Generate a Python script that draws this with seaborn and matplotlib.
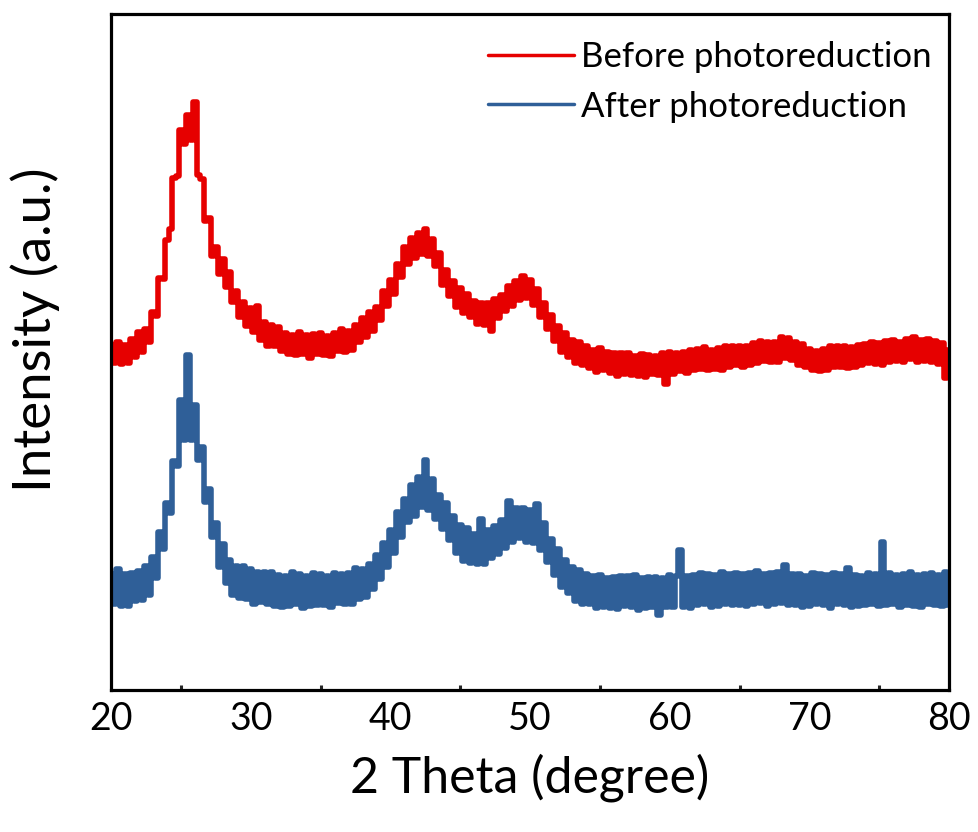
import matplotlib
matplotlib.use("Agg")
import matplotlib.pyplot as plt
import seaborn as sns
from matplotlib.ticker import MultipleLocator

###############################################################################
# DATA (arbitrary intensity units)
###############################################################################
two_theta = [
    20.0, 20.25, 20.5, 20.75, 21.0, 21.25, 21.5, 21.75,
    22.0, 22.25, 22.5, 22.75, 23.0, 23.25, 23.5, 23.75,
    24.0, 24.25, 24.5, 24.75, 25.0, 25.25, 25.5, 25.75,
    26.0, 26.25, 26.5, 26.75, 27.0, 27.25, 27.5, 27.75,
    28.0, 28.25, 28.5, 28.75, 29.0, 29.25, 29.5, 29.75,
    30.0, 30.25, 30.5, 30.75, 31.0, 31.25, 31.5, 31.75,
    32.0, 32.25, 32.5, 32.75, 33.0, 33.25, 33.5, 33.75,
    34.0, 34.25, 34.5, 34.75, 35.0, 35.25, 35.5, 35.75,
    36.0, 36.25, 36.5, 36.75, 37.0, 37.25, 37.5, 37.75,
    38.0, 38.25, 38.5, 38.75, 39.0, 39.25, 39.5, 39.75,
    40.0, 40.25, 40.5, 40.75, 41.0, 41.25, 41.5, 41.75,
    42.0, 42.25, 42.5, 42.75, 43.0, 43.25, 43.5, 43.75,
    44.0, 44.25, 44.5, 44.75, 45.0, 45.25, 45.5, 45.75,
    46.0, 46.25, 46.5, 46.75, 47.0, 47.25, 47.5, 47.75,
    48.0, 48.25, 48.5, 48.75, 49.0, 49.25, 49.5, 49.75,
    50.0, 50.25, 50.5, 50.75, 51.0, 51.25, 51.5, 51.75,
    52.0, 52.25, 52.5, 52.75, 53.0, 53.25, 53.5, 53.75,
    54.0, 54.25, 54.5, 54.75, 55.0, 55.25, 55.5, 55.75,
    56.0, 56.25, 56.5, 56.75, 57.0, 57.25, 57.5, 57.75,
    58.0, 58.25, 58.5, 58.75, 59.0, 59.25, 59.5, 59.75,
    60.0, 60.25, 60.5, 60.75, 61.0, 61.25, 61.5, 61.75,
    62.0, 62.25, 62.5, 62.75, 63.0, 63.25, 63.5, 63.75,
    64.0, 64.25, 64.5, 64.75, 65.0, 65.25, 65.5, 65.75,
    66.0, 66.25, 66.5, 66.75, 67.0, 67.25, 67.5, 67.75,
    68.0, 68.25, 68.5, 68.75, 69.0, 69.25, 69.5, 69.75,
    70.0, 70.25, 70.5, 70.75, 71.0, 71.25, 71.5, 71.75,
    72.0, 72.25, 72.5, 72.75, 73.0, 73.25, 73.5, 73.75,
    74.0, 74.25, 74.5, 74.75, 75.0, 75.25, 75.5, 75.75,
    76.0, 76.25, 76.5, 76.75, 77.0, 77.25, 77.5, 77.75,
    78.0, 78.25, 78.5, 78.75, 79.0, 79.25, 79.5, 79.75,
    80.0,
]

# before photoreduction (red trace)
before = [
    345, 327, 348, 326, 345, 327, 351, 333,
    358, 338, 361, 348, 378, 374, 412, 411,
    450, 461, 512, 514, 560, 546, 575, 550,
    588, 515, 511, 469, 472, 434, 443, 416,
    431, 403, 418, 388, 399, 373, 388, 364,
    382, 358, 384, 350, 368, 344, 365, 344,
    363, 339, 357, 336, 355, 335, 358, 336,
    355, 332, 356, 336, 357, 335, 354, 334,
    357, 339, 361, 338, 359, 340, 365, 348,
    372, 353, 378, 359, 383, 370, 399, 384,
    410, 396, 426, 413, 443, 426, 452, 432,
    457, 436, 461, 434, 451, 424, 437, 405,
    420, 394, 409, 383, 402, 377, 396, 373,
    389, 366, 387, 365, 387, 359, 391, 372,
    395, 379, 404, 384, 409, 390, 414, 392,
    410, 385, 401, 373, 387, 361, 375, 349,
    364, 338, 357, 333, 350, 327, 348, 325,
    344, 322, 340, 318, 342, 320, 338, 317,
    337, 314, 337, 316, 337, 315, 334, 314,
    336, 313, 335, 316, 334, 315, 337, 306,
    338, 316, 337, 319, 338, 317, 340, 320,
    341, 321, 343, 320, 340, 321, 342, 320,
    344, 323, 344, 325, 344, 323, 344, 325,
    347, 327, 349, 329, 348, 328, 348, 328,
    353, 332, 352, 330, 348, 325, 346, 323,
    341, 320, 339, 319, 341, 320, 344, 323,
    344, 323, 344, 322, 343, 323, 345, 325,
    346, 327, 348, 326, 347, 325, 349, 328,
    350, 329, 348, 328, 351, 331, 353, 328,
    350, 329, 351, 328, 349, 326, 347, 312,
    340,
]

# after photoreduction (blue trace)
after = [
    116, 86, 121, 84, 116, 84, 117, 89,
    119, 90, 124, 95, 133, 112, 158, 141,
    187, 177, 229, 224, 290, 250, 335, 250,
    285, 230, 243, 188, 201, 153, 167, 123,
    146, 107, 130, 95, 124, 92, 124, 91,
    121, 86, 118, 88, 118, 86, 118, 84,
    115, 83, 114, 84, 118, 86, 116, 82,
    114, 84, 117, 85, 116, 85, 114, 83,
    117, 87, 116, 86, 117, 86, 122, 91,
    121, 93, 126, 101, 135, 111, 147, 123,
    160, 137, 178, 153, 191, 168, 205, 174,
    213, 183, 230, 180, 211, 171, 195, 161,
    187, 150, 174, 137, 165, 129, 162, 127,
    156, 126, 171, 126, 160, 132, 164, 136,
    170, 142, 189, 148, 182, 152, 182, 148,
    180, 147, 186, 140, 167, 128, 151, 115,
    141, 103, 130, 97, 123, 89, 120, 86,
    116, 86, 114, 82, 115, 83, 112, 82,
    113, 81, 114, 84, 114, 83, 115, 80,
    112, 82, 113, 83, 113, 75, 112, 83,
    115, 83, 114, 140, 83, 114, 82, 115,
    85, 117, 86, 116, 83, 115, 84, 118,
    86, 116, 85, 117, 85, 116, 84, 117,
    86, 119, 87, 116, 84, 117, 86, 118,
    87, 125, 85, 116, 85, 116, 83, 114,
    84, 117, 86, 116, 85, 115, 82, 117,
    86, 116, 85, 122, 83, 115, 84, 114,
    85, 117, 86, 116, 84, 148, 85, 117,
    86, 115, 83, 116, 85, 118, 84, 115,
    83, 116, 86, 117, 85, 115, 84, 118,
    85,
]

series_labels = ["Before photoreduction", "After photoreduction"]
series_colors = ["#e60000", "#2f5f98"]
x_ticks = [20, 30, 40, 50, 60, 70, 80]

###############################################################################
# STYLE
###############################################################################
sns.set_theme(style="white")
plt.rcParams["font.family"] = ["Lato", "DejaVu Sans"]
plt.rcParams["text.color"] = "black"

###############################################################################
# PLOT
###############################################################################
fig, ax = plt.subplots(figsize=(9.79, 8.32), dpi=100)
fig.subplots_adjust(left=0.1134, right=0.9694, top=0.983, bottom=0.1707)

for ys, lab, col in zip([before, after], series_labels, series_colors):
    sns.lineplot(x=two_theta, y=ys, ax=ax, color=col, linewidth=4.0,
                 label=lab, estimator=None, sort=False, drawstyle="steps-mid")

ax.set_xlim(20, 80)
ax.set_ylim(0, 676)
ax.set_xticks(x_ticks)
ax.xaxis.set_minor_locator(MultipleLocator(5))
ax.set_yticks([])

for sp in ax.spines.values():
    sp.set_visible(True)
    sp.set_color("black")
    sp.set_linewidth(2.3)

ax.tick_params(axis="x", which="major", direction="in", length=7, width=2.2,
               labelsize=27, pad=8, colors="black")
ax.tick_params(axis="x", which="minor", direction="in", length=3.5, width=2.2,
               bottom=True)

ax.set_xlabel("2 Theta (degree)", fontsize=36, labelpad=12, color="black")
ax.set_ylabel("Intensity (a.u.)", fontsize=38, color="black")
ax.yaxis.set_label_coords(-0.061, 0.5325)

leg = ax.legend(loc="upper right", bbox_to_anchor=(0.9797, 0.960),
                frameon=False, fontsize=25, borderpad=0, borderaxespad=0,
                handlelength=2.5, handletextpad=0.2, labelspacing=0.5)
for h in leg.get_lines():
    h.set_linewidth(2.5)
    h.set_drawstyle("default")
for t in leg.get_texts():
    t.set_color("black")

fig.savefig("out.png", dpi=100)
